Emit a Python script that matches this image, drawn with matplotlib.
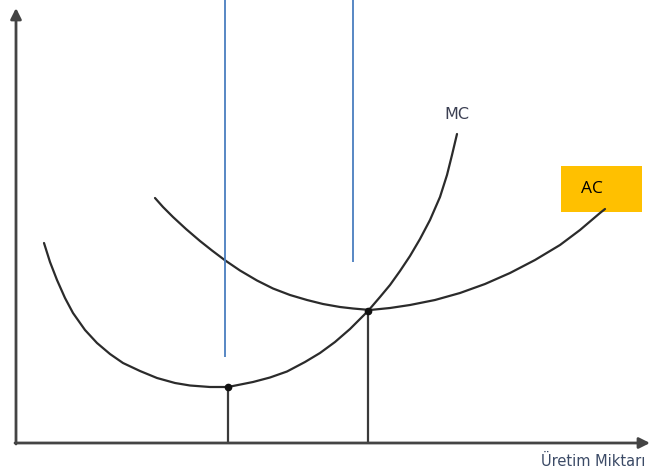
import matplotlib
matplotlib.use("Agg")
import matplotlib.pyplot as plt
from matplotlib.patches import Rectangle

# curves (pixel coords, y downwards)
mc_x = [44, 50, 57, 65, 73, 85, 97, 110, 123, 140, 157, 175, 190, 210, 228,
        253, 270, 287, 305, 320, 335, 350, 368, 380, 390, 400, 410, 420, 430,
        440, 447, 452, 457]
mc_y = [243, 262, 280, 298, 313, 330, 343, 354, 363, 371, 378, 383, 385.5, 387, 387,
        382, 377.5, 371.5, 362, 353, 342, 329, 311, 297, 285, 271, 256, 239, 220,
        197, 175, 155, 134]

ac_x = [155, 163, 173, 186, 200, 212, 225, 240, 257, 273, 290, 307, 323, 340, 353,
        370, 390, 410, 435, 460, 485, 510, 535, 560, 580, 600, 605]
ac_y = [198, 207, 217, 229, 241, 250.5, 260.3, 270.5, 280.5, 288.5, 295, 300, 304, 307, 308.5,
        310, 308, 305, 300, 293, 284, 273, 260, 245, 230, 213, 209]

# marked points: min of MC, MC = AC
pt_x = [228, 368]
pt_y = [387, 311]

# blue guide lines
blue_x = [225, 353]
blue_bottom = [357, 262]

axis_origin = (16, 443)

fig = plt.figure(figsize=(6.64, 4.73), dpi=100)
ax = fig.add_axes([0, 0, 1, 1])
ax.set_xlim(0, 664)
ax.set_ylim(473, 0)
ax.axis("off")

line_col = "#2b2b2b"

# axes with arrows
ax.annotate("", xy=(axis_origin[0], 8), xytext=(axis_origin[0], axis_origin[1] + 1),
            arrowprops=dict(arrowstyle="-|>", color="#444444", lw=2,
                            mutation_scale=16, shrinkA=0, shrinkB=0))
ax.annotate("", xy=(650, axis_origin[1]), xytext=(axis_origin[0] - 1, axis_origin[1]),
            arrowprops=dict(arrowstyle="-|>", color="#444444", lw=2,
                            mutation_scale=16, shrinkA=0, shrinkB=0))

ax.plot(mc_x, mc_y, color=line_col, lw=1.6, solid_capstyle="round")
ax.plot(ac_x, ac_y, color=line_col, lw=1.6, solid_capstyle="round")

ax.vlines(pt_x, pt_y, axis_origin[1], color="#3a3a3a", lw=1.6)
ax.plot(pt_x, pt_y, "o", color="#111111", ms=4.5)

ax.vlines(blue_x, 0, blue_bottom, color="#4a7ebf", lw=1.3)

ax.text(457, 114, "MC", fontsize=11.5, color="#3b3f52", ha="center", va="center",
        fontfamily="DejaVu Sans")

ax.add_patch(Rectangle((561, 166), 81, 46, facecolor="#ffc000", edgecolor="none"))
ax.text(581, 189, "AC", fontsize=12.5, color="black", ha="left", va="center",
        fontfamily="Open Sans")

ax.text(541, 461, "Üretim Miktarı", fontsize=10.5, color="#3b4a66", ha="left",
        va="center", fontfamily="DejaVu Sans")

fig.savefig("out.png", dpi=100)
